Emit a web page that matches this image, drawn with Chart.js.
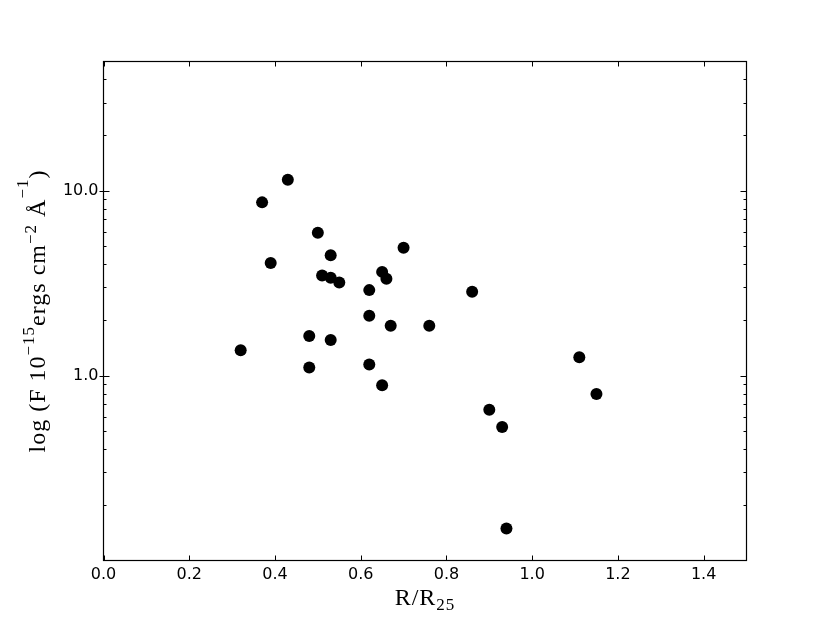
<!DOCTYPE html>
<html>
<head>
<meta charset="utf-8">
<script src="https://cdn.jsdelivr.net/npm/chart.js@4.4.0/dist/chart.umd.min.js"></script>
<style>
  html, body { margin: 0; padding: 0; background: #fff; }
</style>
</head>
<body>
<canvas id="myChart" width="830" height="623"></canvas>
<script>
  // values
  const rRatio = [0.32, 0.37, 0.43, 0.39, 0.50, 0.48, 0.48, 0.51, 0.53, 0.53, 0.53, 0.55, 0.62, 0.62,
                  0.62, 0.65, 0.66, 0.65, 0.67, 0.70, 0.76, 0.86, 0.90, 0.93, 0.94, 1.11, 1.15];
  const flux = [1.37, 8.65, 11.47, 4.07, 5.92, 1.64, 1.105, 3.48, 4.48, 3.38, 1.56, 3.19, 2.90, 2.11,
                1.15, 3.64, 3.34, 0.886, 1.86, 4.91, 1.86, 2.84, 0.654, 0.527, 0.149, 1.256, 0.795];

  const xTicks = [0.0, 0.2, 0.4, 0.6, 0.8, 1.0, 1.2, 1.4];
  const yMajor = [1, 10];
  const yMinor = [0.2, 0.3, 0.4, 0.5, 0.6, 0.7, 0.8, 0.9, 2, 3, 4, 5, 6, 7, 8, 9, 20, 30, 40];

  const serif = '"Liberation Serif", "DejaVu Serif", serif';

  // axis titles with super/subscripts
  const yTitle = [
    {t: 'log (F 10', size: 24},
    {t: '\u221215', size: 17, dy: -11},
    {t: 'ergs cm', size: 24},
    {t: '\u22122', size: 17, dy: -9},
    {t: ' \u00c5', size: 24},
    {t: '\u22121', size: 17, dy: -17},
    {t: ')', size: 24}
  ];
  const xTitle = [
    {t: 'R/R', size: 24},
    {t: '25', size: 17, dy: 5}
  ];

  function drawRich(ctx, parts) {
    ctx.letterSpacing = '1px';
    let w = 0;
    parts.forEach(p => {
      ctx.font = p.size + 'px ' + serif;
      p.w = ctx.measureText(p.t).width;
      w += p.w;
    });
    let x = -w / 2;
    parts.forEach(p => {
      ctx.font = p.size + 'px ' + serif;
      ctx.fillText(p.t, x, p.dy || 0);
      x += p.w;
    });
  }

  // frame, inward ticks and axis titles, matplotlib style
  const framePlugin = {
    id: 'frame',
    afterDraw(chart) {
      const ctx = chart.ctx;
      const a = chart.chartArea;
      const xs = chart.scales.x, ys = chart.scales.y;
      ctx.save();
      ctx.strokeStyle = '#000';
      ctx.lineWidth = 1;
      ctx.beginPath();
      xTicks.forEach(v => {
        const px = Math.round(xs.getPixelForValue(v)) + 0.5;
        ctx.moveTo(px, a.bottom); ctx.lineTo(px, a.bottom - 5);
        ctx.moveTo(px, a.top); ctx.lineTo(px, a.top + 5);
      });
      yMajor.forEach(v => {
        const py = Math.round(ys.getPixelForValue(v)) + 0.5;
        ctx.moveTo(a.left - 4, py); ctx.lineTo(a.left + 6, py);
        ctx.moveTo(a.right, py); ctx.lineTo(a.right - 6, py);
      });
      yMinor.forEach(v => {
        const py = Math.round(ys.getPixelForValue(v)) + 0.5;
        ctx.moveTo(a.left, py); ctx.lineTo(a.left + 3, py);
        ctx.moveTo(a.right, py); ctx.lineTo(a.right - 3, py);
      });
      ctx.stroke();
      ctx.lineWidth = 1.2;
      ctx.strokeRect(a.left, a.top, a.right - a.left, a.bottom - a.top);

      ctx.fillStyle = '#000';
      ctx.textBaseline = 'alphabetic';
      ctx.textAlign = 'left';
      ctx.save();
      ctx.translate(45, (a.top + a.bottom) / 2);
      ctx.rotate(-Math.PI / 2);
      drawRich(ctx, yTitle);
      ctx.restore();
      ctx.save();
      ctx.translate((a.left + a.right) / 2, 605);
      drawRich(ctx, xTitle);
      ctx.restore();
      ctx.restore();
    }
  };

  const data = {
    datasets: [{
      data: rRatio.map((r, i) => ({x: r, y: flux[i]})),
      backgroundColor: '#000',
      borderColor: '#000',
      borderWidth: 0,
      pointRadius: 6,
      pointHoverRadius: 6
    }]
  };

  const config = {
    type: 'scatter',
    data: data,
    options: {
      responsive: false,
      animation: false,
      layout: {
        padding: {left: 0, right: 83.5, top: 61.5, bottom: 0}
      },
      plugins: {
        legend: {display: false},
        tooltip: {enabled: false}
      },
      scales: {
        x: {
          type: 'linear',
          min: 0,
          max: 1.5,
          grid: {display: false, drawTicks: false},
          border: {display: false},
          afterBuildTicks: s => { s.ticks = xTicks.map(v => ({value: v})); },
          afterFit: s => { s.height = 62.5; },
          ticks: {
            autoSkip: false,
            maxRotation: 0,
            padding: 5,
            color: '#000',
            font: {family: '"DejaVu Sans"', size: 16},
            callback: v => v.toFixed(1)
          }
        },
        y: {
          type: 'logarithmic',
          min: 0.1,
          max: 50,
          grid: {display: false, drawTicks: false},
          border: {display: false},
          afterBuildTicks: s => {
            s.ticks = yMajor.concat(yMinor).sort((p, q) => p - q).map(v => ({value: v}));
          },
          afterFit: s => { s.width = 103.5; },
          ticks: {
            autoSkip: false,
            padding: 5,
            color: '#000',
            font: {family: '"DejaVu Sans"', size: 16},
            callback: v => yMajor.includes(v) ? v.toFixed(1) : ''
          }
        }
      }
    },
    plugins: [framePlugin]
  };

  const myChart = new Chart(document.getElementById('myChart'), config);
</script>
</body>
</html>
